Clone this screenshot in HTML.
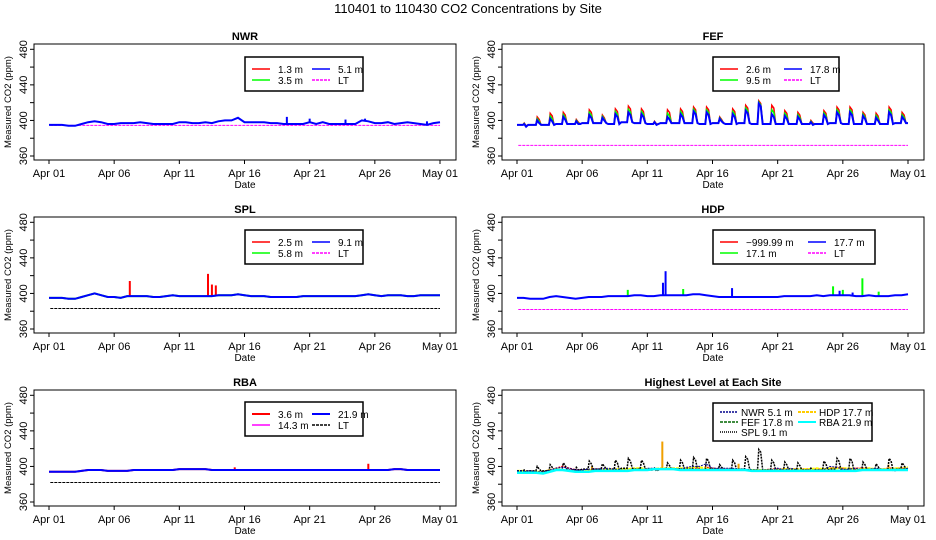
<!DOCTYPE html>
<html><head><meta charset="utf-8"><style>
html,body{margin:0;padding:0;background:#fff}
svg{display:block;font-family:"Liberation Sans",sans-serif}
</style></head><body>
<svg id="c" width="936" height="540" xmlns="http://www.w3.org/2000/svg">
<text x="468" y="13" text-anchor="middle" font-size="13">110401  to  110430 CO2 Concentrations by Site</text>
</svg>
<script>
// ---- data (half-day samples, Apr 01 .. May 01) ----
const dateLabels = ["Apr 01","Apr 06","Apr 11","Apr 16","Apr 21","Apr 26","May 01"];
const yTicks = [360,400,440,480];
const nwrBlue = [395,395,395,394,394,396,398,399,398,396,396,397,397,397,398,397,396,396,396,396,398,398,397,397,398,397,399,400,400,403,398,398,398,398,397,397,396,396,396,396,398,396,398,396,396,396,396,396,400,399,397,397,398,396,397,398,397,396,395,397,398];
const nwrSpikes = [[36.5,404],[40,402],[45.5,401],[48.5,402],[58,399]];
const nwrLT = 394.5;
const fefBase = [395,395,395,396,396,397,397,396,398,397,396,397,397,397,396,397,396,397,396,396,396,396,396,396,397,396,396,396,396,397];
const fefPeak = [396,400,402,404,399,406,403,407,409,407,398,404,407,410,409,402,407,411,419,407,405,404,398,406,409,409,405,403,409,404];
const fefRedExtra = [1,4,6,5,2,6,3,6,7,6,1,8,6,5,6,2,6,6,3,10,6,5,2,5,6,6,4,5,6,5];
const fefLT = 372;
const splBlue = [395,395,395,394,394,396,398,400,398,396,396,395,397,397,397,397,396,396,397,398,397,397,397,397,397,397,398,398,398,399,398,397,397,397,396,396,396,396,396,397,397,397,397,397,397,397,397,397,398,399,398,397,398,398,398,397,397,398,398,398,398];
const splSpikes = [[12.4,414],[24.4,422],[25,410],[25.6,409]];
const splLT = 383;
const hdpBlue = [395,395,394,394,394,396,397,396,395,394,395,396,396,396,397,397,397,397,398,398,397,397,398,398,398,398,398,399,399,398,397,396,396,396,396,396,396,396,396,396,396,397,397,397,397,397,398,397,398,398,398,398,397,397,398,397,397,397,398,398,399];
const hdpBlueSpikes = [[22.4,412],[22.8,425],[33,406],[49.5,403],[51.5,401]];
const hdpGreenSpikes = [[17,404],[25.5,405],[48.5,408],[50,404],[53,417],[55.5,402]];
const hdpLT = 382;
const rbaBlue = [394,394,394,394,394,395,396,396,396,395,395,395,395,396,396,396,396,396,396,396,397,397,397,397,397,396,396,396,396,396,396,396,396,396,396,396,396,396,396,396,396,396,396,396,396,396,396,396,396,396,396,396,396,397,397,396,396,396,396,396,396];
const rbaSpikes = [[28.5,399],[49,403]];
const rbaLT = 382;
const topCyan = [393,393,393,393,392,394,396,396,395,394,394,394,395,395,395,395,395,395,396,396,396,397,397,397,397,396,396,396,396,396,396,396,396,396,396,396,395,395,395,395,395,395,395,395,395,395,395,395,395,395,395,395,395,396,396,396,396,396,396,396,396];
const topHdpSpikes = [[22.3,428],[11.5,400],[34,403],[57,402]];

const svg = document.getElementById('c');
const NS = 'http://www.w3.org/2000/svg';
function mk(tag, attrs, parent){ const e=document.createElementNS(NS,tag); for(const k in attrs) e.setAttribute(k,attrs[k]); (parent||svg).appendChild(e); return e; }

function panel(col,row,title,name){
  const ox = col*468, oy=[0,173,346][row];
  const g = mk('g',{});
  
  
  const P = {ox,oy,g,
    x:d=>ox+49+d*(391/30),
    y:v=>oy+156-(v-360)*(106.7/120)};
  mk('rect',{x:ox+34,y:oy+44,width:422,height:116,fill:'none',stroke:'#000','stroke-width':1},g);
  const t=mk('text',{x:ox+245,y:oy+40,'text-anchor':'middle','font-size':11,'font-weight':'bold'},g); t.textContent=title;
   
  mk('line',{x1:ox+34,x2:ox+34,y1:P.y(480),y2:P.y(360),stroke:'#000'},g);
  for(let v=360;v<=480;v+=20) mk('line',{x1:ox+30,x2:ox+34,y1:P.y(v),y2:P.y(v),stroke:'#000'},g);
  yTicks.forEach(v=>{const tt=mk('text',{x:0,y:0,'font-size':11,'text-anchor':'middle',transform:`translate(${ox+27},${P.y(v)}) rotate(-90)`},g);tt.textContent=v;
     });
  const yl=mk('text',{x:0,y:0,'font-size':9.5,'text-anchor':'middle',transform:`translate(${ox+11},${oy+102}) rotate(-90)`},g);yl.textContent='Measured CO2 (ppm)';
   
  mk('line',{x1:P.x(0),x2:P.x(30),y1:oy+160,y2:oy+160,stroke:'#000'},g);
  dateLabels.forEach((l,i)=>{const xx=P.x(i*5);mk('line',{x1:xx,x2:xx,y1:oy+160,y2:oy+164,stroke:'#000'},g);
    const tt=mk('text',{x:xx,y:oy+177,'font-size':11,'text-anchor':'middle'},g);tt.textContent=l;
     });
  const xl=mk('text',{x:ox+245,y:oy+188,'font-size':10,'text-anchor':'middle'},g);xl.textContent='Date';
   
  return P;
}
function halfLine(P,arr,color,w,dash,name){
  const pts=arr.map((v,i)=>P.x(i*0.5).toFixed(1)+','+P.y(v).toFixed(1)).join(' ');
  const e=mk('polyline',{points:pts,fill:'none',stroke:color,'stroke-width':w,'stroke-dasharray':dash||'none'},P.g);
   
}
function spikes(P,list,base,color,name){
  list.forEach(s=>{const i=Math.min(base.length-1,Math.round(s[0]));
    const e=mk('line',{x1:P.x(s[0]*0.5),x2:P.x(s[0]*0.5),y1:P.y(base[i]),y2:P.y(s[1]),stroke:color,'stroke-width':2},P.g);
     });
}
function ltLine(P,v,color,name){
  const e=mk('line',{x1:P.x(0.1),x2:P.x(30),y1:P.y(v),y2:P.y(v),stroke:color,'stroke-width':1,'stroke-dasharray':'3,1'},P.g);
   
}
function legend(P,x,y,w,h,items,cols,colW,rowH,off,txOff){
  rowH=rowH||11; off=off||12; txOff=txOff||26;
  const g=mk('g',{},P.g);
   
  mk('rect',{x:P.ox+x,y:P.oy+y,width:w,height:h,fill:'#fff',stroke:'#000','stroke-width':1.5},g);
  items.forEach((it,k)=>{const c=k%cols? 1:0; const r=Math.floor(k/cols);
    const lx=P.ox+x+7+c*colW, ly=P.oy+y+off+r*rowH;
    mk('line',{x1:lx,x2:lx+18,y1:ly,y2:ly,stroke:it[1],'stroke-width':it[3]||1.5,'stroke-dasharray':it[2]||'none'},g);
    const t=mk('text',{x:lx+txOff,y:ly+4,'font-size':10},g);t.textContent=it[0];
     });
}
function fefPts(P,extra){
  const pts=[];
  fefBase.forEach((b,d)=>{
    const pk=fefPeak[d]+(extra?extra[d]:0);
    pts.push([d,b],[d+0.45,b],[d+0.55,pk],[d+0.7,pk-3],[d+0.85,b]);
  });
  pts.push([30,fefBase[29]]);
  return pts.map(p=>P.x(p[0]).toFixed(1)+','+P.y(p[1]).toFixed(1)).join(' ');
}

// NWR
let P=panel(0,0,'NWR','nwr');
ltLine(P,nwrLT,'#ff00ff','nwr-lt-line');
halfLine(P,nwrBlue,'#ff0000',1,null,'nwr-1.3m-line');
halfLine(P,nwrBlue,'#0000ff',2,null,'nwr-5.1m-line');
spikes(P,nwrSpikes,nwrBlue,'#0000ff','nwr-spike');
legend(P,245,57,118,34,[['1.3 m','#f00'],['5.1 m','#00f'],['3.5 m','#0f0'],['LT','#f0f','3,1']],2,60);

// FEF
P=panel(1,0,'FEF','fef');
ltLine(P,fefLT,'#ff00ff','fef-lt-line');
let e=mk('polyline',{points:fefPts(P,fefRedExtra),fill:'none',stroke:'#f00','stroke-width':1.5},P.g);  
e=mk('polyline',{points:fefPts(P,fefRedExtra.map(v=>v/2)),fill:'none',stroke:'#0f0','stroke-width':1.5},P.g);  
e=mk('polyline',{points:fefPts(P,null),fill:'none',stroke:'#00f','stroke-width':2},P.g);  
legend(P,245,57,126,34,[['2.6 m','#f00'],['17.8 m','#00f'],['9.5 m','#0f0'],['LT','#f0f','3,1']],2,64);

// SPL
P=panel(0,1,'SPL','spl');
ltLine(P,splLT,'#000','spl-lt-line');
halfLine(P,splBlue,'#0f0',2,null,'spl-5.8m-line');
spikes(P,splSpikes,splBlue,'#f00','spl-2.5m-spike');
halfLine(P,splBlue,'#00f',2,null,'spl-9.1m-line');
legend(P,245,57,118,34,[['2.5 m','#f00'],['9.1 m','#00f'],['5.8 m','#0f0'],['LT','#f0f','3,1']],2,60);

// HDP
P=panel(1,1,'HDP','hdp');
ltLine(P,hdpLT,'#ff00ff','hdp-lt-line');
spikes(P,hdpGreenSpikes,hdpBlue,'#0f0','hdp-17.1m-spike');
halfLine(P,hdpBlue,'#00f',2,null,'hdp-17.7m-line');
spikes(P,hdpBlueSpikes,hdpBlue,'#00f','hdp-17.7m-spike');
legend(P,245,57,162,34,[['\u2212999.99 m','#f00'],['17.7 m','#00f'],['17.1 m','#0f0'],['LT','#f0f','3,1']],2,88);

// RBA
P=panel(0,2,'RBA','rba');
ltLine(P,rbaLT,'#000','rba-lt-line');
halfLine(P,rbaBlue,'#f00',2,null,'rba-3.6m-line');
spikes(P,rbaSpikes,rbaBlue,'#f00','rba-spike');
halfLine(P,rbaBlue,'#00f',2,null,'rba-21.9m-line');
legend(P,245,56,118,34,[['3.6 m','#f00',null,2],['21.9 m','#00f',null,2],['14.3 m','#f0f'],['LT','#000','3,1']],2,60);

// Highest level
P=panel(1,2,'Highest Level at Each Site','highest');
halfLine(P,splBlue,'#f00',1.5,'2,1','top-spl-line');
halfLine(P,hdpBlue,'#ff0',2,'3,1','top-hdp-line');
spikes(P,topHdpSpikes,hdpBlue,'#f0a000','top-hdp-spike');
e=mk('polyline',{points:fefPts(P,null),fill:'none',stroke:'#000','stroke-width':1.5,'stroke-dasharray':'2,1'},P.g);  
halfLine(P,nwrBlue,'#00008b',1,'2,1','top-nwr-line');
halfLine(P,topCyan,'#00ffff',2.5,null,'top-rba-line');
legend(P,245,57,159,38,[['NWR  5.1 m','#00008b','2,1'],['HDP  17.7 m','#fc0','3,1',2],['FEF  17.8 m','#060','3,1'],['RBA  21.9 m','#0ff',null,2],['SPL  9.1 m','#000','1,1']],2,78,10,9,21);
</script>
</body></html>
